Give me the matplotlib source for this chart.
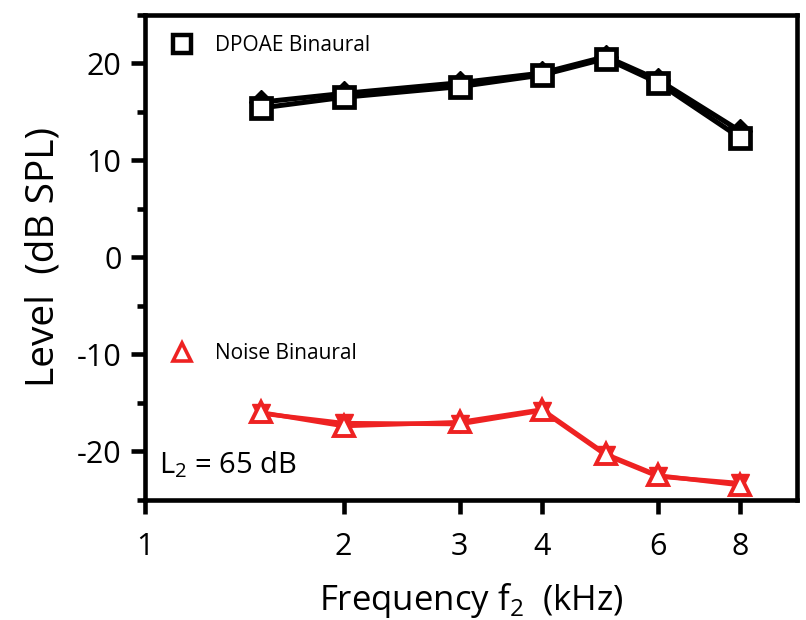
import numpy as np
import matplotlib
matplotlib.use("Agg")
from matplotlib import pyplot as plt
from matplotlib.ticker import FixedLocator, NullFormatter, NullLocator
from matplotlib.lines import Line2D

plt.rcParams['font.family'] = ['Open Sans', 'DejaVu Sans']
plt.rcParams['axes.unicode_minus'] = False

freqs = [1.5, 2, 3, 4, 5, 6, 8]

# DPOAE levels (dB SPL)
dpoae_binaural = [15.4, 16.5, 17.6, 18.8, 20.5, 18.0, 12.3]
dpoae_monaural = [16.0, 16.9, 18.0, 19.0, 20.7, 18.3, 13.0]

# noise floor (dB SPL)
noise_binaural = [-16.0, -17.4, -17.0, -15.7, -20.3, -22.5, -23.5]
noise_monaural = [-16.1, -17.1, -17.2, -15.8, -20.4, -22.6, -23.3]

x_ticks = [1, 2, 3, 4, 6, 8]
x_ticklabels = ['1', '2', '3', '4', '6', '8']
y_major = [-20, -10, 0, 10, 20]
y_minor = [-25, -15, -5, 5, 15, 25]

red = '#ee2222'

fig = plt.figure(figsize=(8.06, 6.20), dpi=100)
ax = fig.add_axes([0.180, 0.194, 0.809, 0.782])

# underlying (filled) series
ax.plot(freqs, dpoae_monaural, color='black', lw=3.6, marker='D',
        ms=12, mfc='black', mec='black', zorder=2)
ax.plot(freqs, noise_monaural, color=red, lw=3.2, marker='v',
        ms=13, mfc=red, mec=red, zorder=2)

# binaural series (open markers)
ax.plot(freqs, dpoae_binaural, color='black', lw=3.6, marker='s',
        ms=14, mfc='white', mec='black', mew=3.4, zorder=3)
ax.plot(freqs, noise_binaural, color=red, lw=3.2, marker='^',
        ms=14, mfc='white', mec=red, mew=2.8, zorder=3)

ax.set_xscale('log')
ax.set_xlim(1, 9.75)
ax.set_ylim(-25, 25)

ax.xaxis.set_major_locator(FixedLocator(x_ticks))
ax.xaxis.set_minor_locator(NullLocator())
ax.set_xticklabels(x_ticklabels)
ax.xaxis.set_minor_formatter(NullFormatter())

ax.set_yticks(y_major)
ax.set_yticks(y_minor, minor=True)

ax.tick_params(axis='both', which='major', direction='out', length=10,
               width=3.3, labelsize=22, pad=7)
ax.tick_params(axis='y', which='minor', direction='out', length=6, width=3.3)
ax.tick_params(axis='x', pad=13)

for s in ax.spines.values():
    s.set_linewidth(3.3)

ax.set_xlabel('Frequency f$_\\mathregular{2}$  (kHz)', fontsize=25, labelpad=14)
ax.set_ylabel('Level  (dB SPL)', fontsize=28, labelpad=10)

ax.text(0.022, 0.04, 'L$_\\mathregular{2}$ = 65 dB', transform=ax.transAxes,
        fontsize=21, ha='left', va='bottom')

h1 = Line2D([], [], ls='none', marker='s', ms=13, mfc='white', mec='black', mew=3.2)
h2 = Line2D([], [], ls='none', marker='^', ms=13, mfc='white', mec=red, mew=2.6)
leg1 = ax.legend([h1], ['DPOAE Binaural'], loc='upper left', frameon=False,
                 fontsize=15, bbox_to_anchor=(0.0, 0.99), handletextpad=0.6,
                 borderaxespad=0.35)
ax.add_artist(leg1)
ax.legend([h2], ['Noise Binaural'], loc='upper left', frameon=False,
          fontsize=15, bbox_to_anchor=(0.0, 0.355), handletextpad=0.6,
          borderaxespad=0.35)

fig.savefig('out.png', dpi=100)
